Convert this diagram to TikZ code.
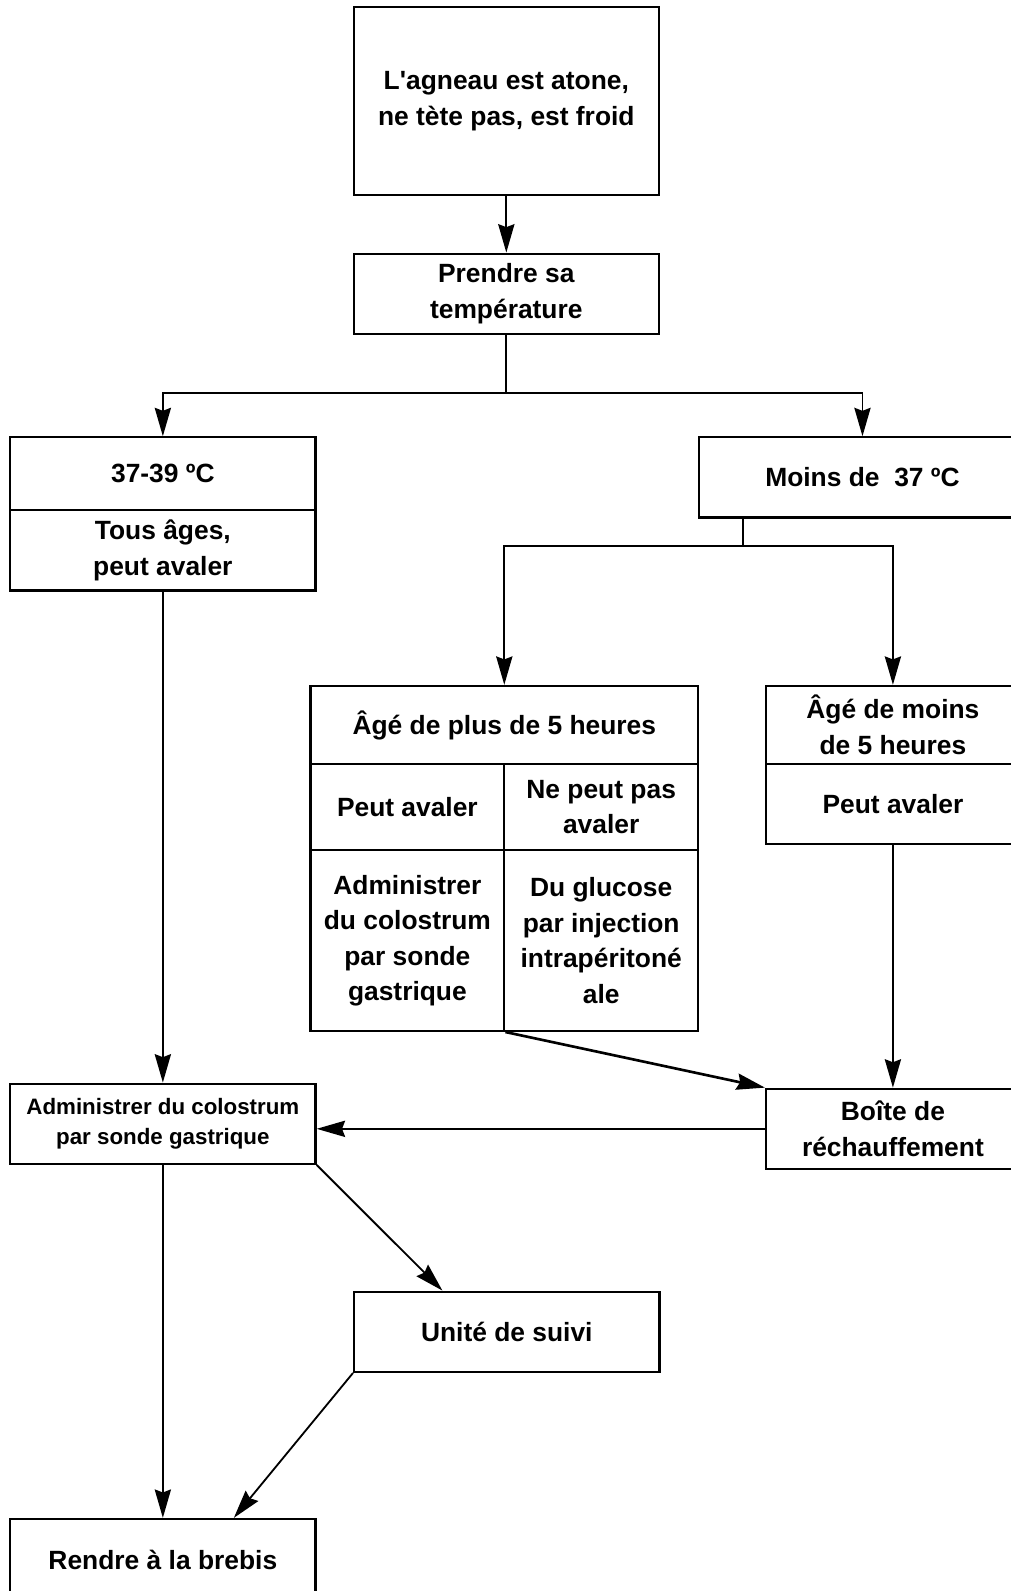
\documentclass[tikz,border=0pt]{standalone}
\usepackage{fontspec}
\setmainfont{Liberation Sans}
\usetikzlibrary{arrows.meta}

\begin{document}
\begin{tikzpicture}[x=0.5pt,y=0.5pt,yscale=-1,
  box/.style={draw, line width=1.1pt, inner sep=1pt, align=center,
    font=\bfseries\fontsize{13}{17.5}\selectfont},
  smallbox/.style={box, font=\bfseries\fontsize{11}{14.5}\selectfont},
  fleche/.style={line width=0.9pt, -{Stealth[length=14pt,width=8pt,inset=1.5pt]}},
  trait/.style={line width=0.9pt}]
\useasboundingbox (0,0) rectangle (996,1568);

% Boxes
\node [box, minimum width=150.5pt, minimum height=92.5pt] (atone) at (499,99.5) {L\textquotesingle agneau est atone,\\ne tète pas, est froid};
\node [box, minimum width=150.5pt, minimum height=39.5pt] (prendre) at (499,289.5) {Prendre sa\\température};
\node [box, minimum width=150.5pt, minimum height=36pt] (entre) at (160.5,467) {37-39 ºC};
\node [box, minimum width=150.5pt, minimum height=39.5pt] (tous) at (160.5,542.5) {Tous âges,\\peut avaler};
\node [box, minimum width=161pt, minimum height=39.5pt] (moins) at (850,470.5) {Moins de~~37 ºC};

% Text Node
\node [box, minimum width=191pt, minimum height=38.5pt] (plus) at (497,714.5) {Âgé de plus de 5 heures};
\node [box, minimum width=95.5pt, minimum height=42.5pt] (peutA) at (401.5,795.5) {Peut avaler};
\node [box, minimum width=95.5pt, minimum height=42.5pt] (nepeut) at (592.5,795.5) {Ne peut pas\\avaler};
\node [box, minimum width=95.5pt, minimum height=89pt] (colA) at (401.5,927) {Administrer\\du colostrum\\par sonde\\gastrique};
\node [box, minimum width=95.5pt, minimum height=89pt] (glucose) at (592.5,927) {Du glucose\\par injection\\intrapéritoné\\ale};

% Text Node
\node [box, minimum width=125pt, minimum height=38.5pt] (moinsA) at (880,714.5) {Âgé de moins\\de 5 heures};
\node [box, minimum width=125pt, minimum height=39.5pt] (peutB) at (880,792.5) {Peut avaler};
\node [box, minimum width=125pt, minimum height=39.5pt] (boite) at (880,1112.5) {Boîte de\\réchauffement};
\node [smallbox, minimum width=150.5pt, minimum height=39.5pt] (colB) at (160.5,1107.5) {Administrer du colostrum\\par sonde gastrique};
\node [box, minimum width=150.5pt, minimum height=39.5pt] (suivi) at (499.5,1312.5) {Unité de suivi};
\node [box, minimum width=150.5pt, minimum height=40.5pt] (brebis) at (160.5,1537.5) {Rendre à la brebis};

% Connectors
\coordinate (temp) at (499,387);
\coordinate (age) at (732,538);
\draw [fleche] (atone) -- (prendre);
\draw [trait] (prendre) -- (temp);
\draw [fleche] (temp) -| (entre.north);
\draw [fleche] (temp) -| (moins.north);
\draw [trait] (moins.south -| age) -- (age);
\draw [fleche] (age) -| (plus.north);
\draw [fleche] (age) -| (moinsA.north);
\draw [fleche] (tous) -- (colB);
\draw [fleche] (peutB) -- (boite);
\draw [fleche, line width=1.3pt] (colA.south east) -- (boite.north west);
\draw [fleche] (boite.west) -- (colB.east |- boite.west);
\draw [fleche] (colB) -- (brebis);
\draw [fleche] (colB.south east) -- ([xshift=-31.75pt]suivi.north);
\draw [fleche] (suivi.south west) -- ([xshift=35pt]brebis.north);

\end{tikzpicture}
\end{document}
